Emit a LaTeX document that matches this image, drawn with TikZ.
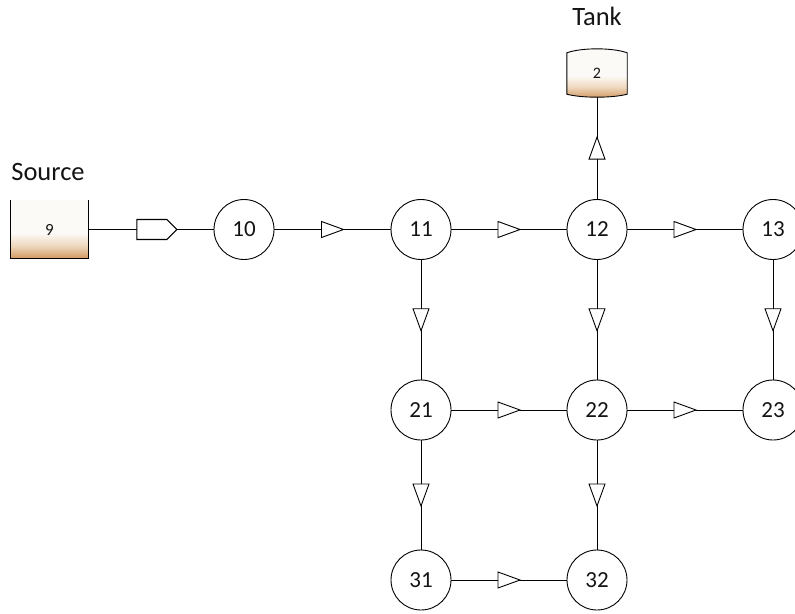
\documentclass[tikz,border=0pt]{standalone}
\usepackage{fontspec}
\setmainfont{Carlito}
\usetikzlibrary{decorations.markings,calc,backgrounds}

\definecolor{inktext}{RGB}{20,20,20}
\definecolor{vesseltop}{RGB}{252,250,246}
\definecolor{vesselmid}{RGB}{238,216,190}
\definecolor{vesselbot}{RGB}{210,152,98}
% vertical fill of the vessels: pale on top, tan towards the bottom
\pgfdeclareverticalshading{vesselfill}{100bp}{color(0bp)=(vesselbot); color(25bp)=(vesselbot); color(36bp)=(vesselmid); color(47bp)=(vesseltop); color(100bp)=(vesseltop)}

\tikzset{
  pipe/.style={line width=0.9pt},
  junction/.style={circle, draw, line width=0.9pt, minimum size=60pt, inner sep=0pt,
    text=inktext, font=\fontsize{23}{26}\selectfont},
  flow/.style={pipe, postaction={decorate}, decoration={markings,
    mark=at position 0.5 with {\draw[line width=0.9pt, fill=white] (-11pt,-8pt) -- (11pt,0pt) -- (-11pt,8pt) -- cycle;}}},
  pumped/.style={pipe, postaction={decorate}, decoration={markings,
    mark=at position 0.548 with {\draw[line width=1.1pt, fill=white] (-20pt,-10pt) -- (10pt,-10pt) -- (20pt,0pt) -- (10pt,10pt) -- (-20pt,10pt) -- cycle;}}},
  title/.style={text=inktext, font=\fontsize{26.5}{30}\selectfont},
  vessel/.style={inner sep=0pt, text=inktext},
}

\begin{document}
\begin{tikzpicture}[x=1pt, y=-1pt]
  \useasboundingbox (0,0) rectangle (795,613);

  % reservoir and tank
  \node[vessel, shade, shading=vesselfill, minimum width=77pt, minimum height=58pt,
        font=\fontsize{17}{19}\selectfont] (src) at (49.5,229.5) {9};
  \draw[pipe] (src.north west) -- (src.south west) -- (src.south east) -- (src.north east);
  \node[title] (srclabel) at (48,172) {Source};

  \node[vessel, minimum width=60pt, minimum height=48pt,
        font=\fontsize{16}{18}\selectfont] (tank) at (597,73) {2};
  \begin{scope}[on background layer]
    \path[shade, shading=vesselfill, draw, line width=0.9pt]
      ($(tank.north west)+(0,4)$) .. controls ($(tank.north west)+(15,-1.3)$) and ($(tank.north east)+(-15,-1.3)$) .. ($(tank.north east)+(0,4)$)
      -- ($(tank.south east)+(0,-3)$) .. controls ($(tank.south east)+(-15,1)$) and ($(tank.south west)+(15,1)$) .. ($(tank.south west)+(0,-3)$)
      -- cycle;
  \end{scope}
  \node[title] (tanklabel) at (597,16) {Tank};

  % junctions
  \node[junction] (n10) at (244,229.5) {10};
  \node[junction] (n11) at (421,229.5) {11};
  \node[junction] (n12) at (597,229.5) {12};
  \node[junction] (n13) at (773,229.5) {13};
  \node[junction] (n21) at (421,410) {21};
  \node[junction] (n22) at (597,410) {22};
  \node[junction] (n23) at (773,410) {23};
  \node[junction] (n31) at (421,580) {31};
  \node[junction] (n32) at (597,580) {32};

  % pipes
  \draw[pumped] (src.east) -- (n10);
  \draw[flow] (n10) -- (n11);
  \draw[flow] (n11) -- (n12);
  \draw[flow] (n12) -- (n13);
  \draw[flow] (n12) -- (tank.south);
  \draw[flow] (n11) -- (n21);
  \draw[flow] (n12) -- (n22);
  \draw[flow] (n13) -- (n23);
  \draw[flow] (n21) -- (n22);
  \draw[flow] (n22) -- (n23);
  \draw[flow] (n21) -- (n31);
  \draw[flow] (n22) -- (n32);
  \draw[flow] (n31) -- (n32);
\end{tikzpicture}
\end{document}
